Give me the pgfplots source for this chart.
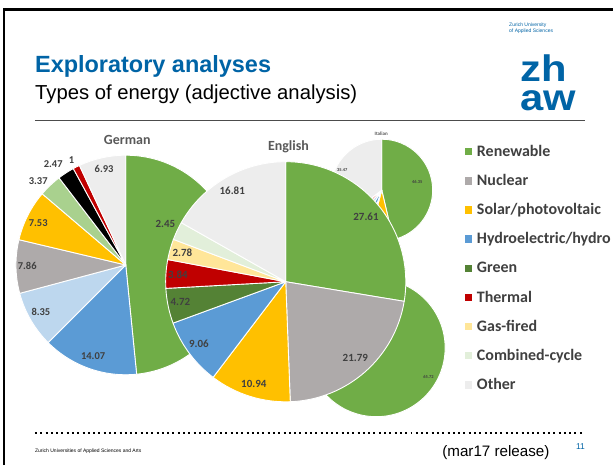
\documentclass[border=0pt]{standalone}
\usepackage{pgfplots}
\pgfplotsset{compat=1.18}
\usepackage{pgfplotstable}
\usepackage{fontspec}
\setmainfont{Liberation Sans}
\newfontfamily\calfont{Carlito}

\definecolor{cRen}{HTML}{70AD47}
\definecolor{cNuc}{HTML}{AEAAAA}
\definecolor{cSol}{HTML}{FFC000}
\definecolor{cHyd}{HTML}{5B9BD5}
\definecolor{cGrn}{HTML}{548235}
\definecolor{cThe}{HTML}{C00000}
\definecolor{cGas}{HTML}{FFE699}
\definecolor{cCom}{HTML}{E2EFDA}
\definecolor{cOth}{HTML}{EDEDED}
\definecolor{cLBlue}{HTML}{BDD7EE}
\definecolor{cLGreen}{HTML}{A9D18E}
\definecolor{cPink}{HTML}{F4B6B6}
\definecolor{zblue}{HTML}{0064A6}
\definecolor{lbl}{HTML}{404040}
\definecolor{ttl}{HTML}{595959}

% German
\pgfplotstableread{
value color
48.42 cRen
14.07 cHyd
8.35 cLBlue
7.86 cNuc
7.53 cSol
3.37 cLGreen
2.47 black
1 cThe
6.93 cOth
}\germantab
% English
\pgfplotstableread{
value color
27.61 cRen
21.79 cNuc
10.94 cSol
9.06 cHyd
4.72 cGrn
3.84 cThe
2.78 cGas
2.45 cCom
16.81 cOth
}\englishtab
% Italian
\pgfplotstableread{
value color
46.35 cRen
7.80 cSol
1.20 black
3.30 cHyd
2.90 cLBlue
2.98 cPink
35.47 cOth
}\italiantab
% fourth pie (mostly hidden)
\pgfplotstableread{
value color
65.72 cRen
34.28 cOth
}\fourthtab

\newcommand\drawpie[4]{%
  \pgfplotstablegetrowsof{#1}%
  \pgfmathtruncatemacro\lastrow{\pgfplotsretval-1}%
  \def\cum{0}%
  \pgfplotsforeachungrouped \i in {0,...,\lastrow}{%
    \pgfplotstablegetelem{\i}{value}\of{#1}\let\myval\pgfplotsretval
    \pgfplotstablegetelem{\i}{color}\of{#1}\let\mycol\pgfplotsretval
    \pgfmathsetmacro\aa{90-3.6*\cum}%
    \pgfmathsetmacro\cum{\cum+\myval}%
    \pgfmathsetmacro\bb{90-3.6*\cum}%
    \edef\tmp{\noexpand\fill[\mycol,draw=white,line width=0.9pt,line join=round] (axis cs:#2,#3) -- ++(\aa:#4pt) arc[start angle=\aa,end angle=\bb,radius=#4pt] -- cycle;}%
    \tmp
  }%
}

\tikzset{
  glbl/.style={inner sep=0, text=lbl, font=\calfont\bfseries\fontsize{10.5}{12}\selectfont},
  elbl/.style={inner sep=0, text=lbl, font=\calfont\bfseries\fontsize{11}{12}\selectfont},
  ilbl/.style={inner sep=0, text=lbl, font=\calfont\bfseries\fontsize{4.5}{5}\selectfont},
  legtxt/.style={anchor=base west, inner sep=0, text=lbl, font=\calfont\bfseries\fontsize{16}{18}\selectfont},
}

\begin{document}
\begin{tikzpicture}
\begin{axis}[x=1pt,y=1pt,xmin=0,xmax=614,ymin=0,ymax=466,hide axis,clip=false,scale only axis]
\fill[white] (axis cs:0,0) rectangle (axis cs:614,466);
% slide frame
\draw[black,line width=2.4pt] (axis cs:3.8,0) -- (axis cs:3.8,456.3) -- (axis cs:614,456.3);
% header
\node[anchor=base west,inner sep=0,text=zblue,font=\bfseries\fontsize{23.5}{28}\selectfont] at (axis cs:35,393) {Exploratory analyses};
\node[anchor=base west,inner sep=0,font=\fontsize{20.3}{24}\selectfont] at (axis cs:35,366) {Types of energy (adjective analysis)};
\draw[black!70,line width=0.9pt] (axis cs:35,345.3) -- (axis cs:586,345.3);
% logo
\node[anchor=north west,inner sep=0,align=left,text=zblue,font=\fontsize{5}{6.6}\selectfont] at (axis cs:510,443.5) {Zurich University\\of Applied Sciences};
\node[anchor=north west,inner sep=0,align=left,text=zblue,xscale=1.13,font=\bfseries\fontsize{37}{29}\selectfont] at (axis cs:521,411) {zh\\aw};
% footer
\draw[black,line width=2pt,dash pattern=on 2pt off 3.3pt] (axis cs:35,32) -- (axis cs:586,32);
\node[anchor=base west,inner sep=0,font=\fontsize{5}{6}\selectfont] at (axis cs:35,13) {Zurich Universities of Applied Sciences and Arts};
\node[anchor=base west,inner sep=0,font=\fontsize{15.2}{18}\selectfont] at (axis cs:443,9) {(mar17 release)};
\node[anchor=base west,inner sep=0,text=zblue,font=\fontsize{8.5}{10}\selectfont] at (axis cs:577,16) {11};

% German pie
\drawpie{\germantab}{126}{200.5}{110}
\node[anchor=base,inner sep=0,text=ttl,font=\calfont\bfseries\fontsize{14}{16}\selectfont] at (axis cs:127.5,321) {German};
\node[glbl] at (axis cs:104.3,297) {6.93};
\node[glbl] at (axis cs:71.7,306) {1};
\node[glbl] at (axis cs:53.3,301.7) {2.47};
\node[glbl] at (axis cs:38.3,285) {3.37};
\node[glbl] at (axis cs:38.3,242.7) {7.53};
\node[glbl] at (axis cs:27.3,199.3) {7.86};
\node[glbl] at (axis cs:41,153.3) {8.35};
\node[glbl] at (axis cs:93.3,109.3) {14.07};

% Italian pie
\drawpie{\italiantab}{382.5}{275.5}{51}
\node[anchor=base,inner sep=0,text=ttl,font=\calfont\bfseries\fontsize{5}{6}\selectfont] at (axis cs:382,330) {Italian};
\node[ilbl] at (axis cs:418,284) {46.35};
\node[ilbl] at (axis cs:343,296) {35.47};

% fourth pie
\drawpie{\fourthtab}{377}{117.5}{69}
\node[ilbl] at (axis cs:429.3,88.7) {65.72};

% English pie
\drawpie{\englishtab}{286.3}{183.7}{120.3}
\node[anchor=base,inner sep=0,text=ttl,font=\calfont\bfseries\fontsize{14}{16}\selectfont] at (axis cs:289,315.3) {English};
\node[elbl] at (axis cs:232.7,275) {16.81};
\node[elbl] at (axis cs:366.7,248.7) {27.61};
\node[elbl] at (axis cs:356,107.3) {21.79};
\node[elbl] at (axis cs:254.3,81.7) {10.94};
\node[elbl] at (axis cs:199.3,121.7) {9.06};
\node[elbl] at (axis cs:180.7,163) {4.72};
\node[elbl] at (axis cs:178.3,190.7) {3.84};
\node[elbl] at (axis cs:182.7,212.3) {2.78};
\node[elbl] at (axis cs:165.7,242) {2.45};

% legend
\fill[cRen] (axis cs:465.5,310.3) rectangle (axis cs:472.9,317.7);
\node[legtxt] at (axis cs:477.7,309.3) {Renewable};
\fill[cNuc] (axis cs:465.5,281.1) rectangle (axis cs:472.9,288.5);
\node[legtxt] at (axis cs:477.7,280.1) {Nuclear};
\fill[cSol] (axis cs:465.5,251.9) rectangle (axis cs:472.9,259.3);
\node[legtxt] at (axis cs:477.7,250.9) {Solar/photovoltaic};
\fill[cHyd] (axis cs:465.5,222.7) rectangle (axis cs:472.9,230.1);
\node[legtxt] at (axis cs:477.7,221.7) {Hydroelectric/hydro};
\fill[cGrn] (axis cs:465.5,193.5) rectangle (axis cs:472.9,200.9);
\node[legtxt] at (axis cs:477.7,192.5) {Green};
\fill[cThe] (axis cs:465.5,164.3) rectangle (axis cs:472.9,171.7);
\node[legtxt] at (axis cs:477.7,163.3) {Thermal};
\fill[cGas] (axis cs:465.5,135.1) rectangle (axis cs:472.9,142.5);
\node[legtxt] at (axis cs:477.7,134.1) {Gas-fired};
\fill[cCom] (axis cs:465.5,105.9) rectangle (axis cs:472.9,113.3);
\node[legtxt] at (axis cs:477.7,104.9) {Combined-cycle};
\fill[cOth] (axis cs:465.5,76.7) rectangle (axis cs:472.9,84.1);
\node[legtxt] at (axis cs:477.7,75.7) {Other};
\end{axis}
\end{tikzpicture}
\end{document}
